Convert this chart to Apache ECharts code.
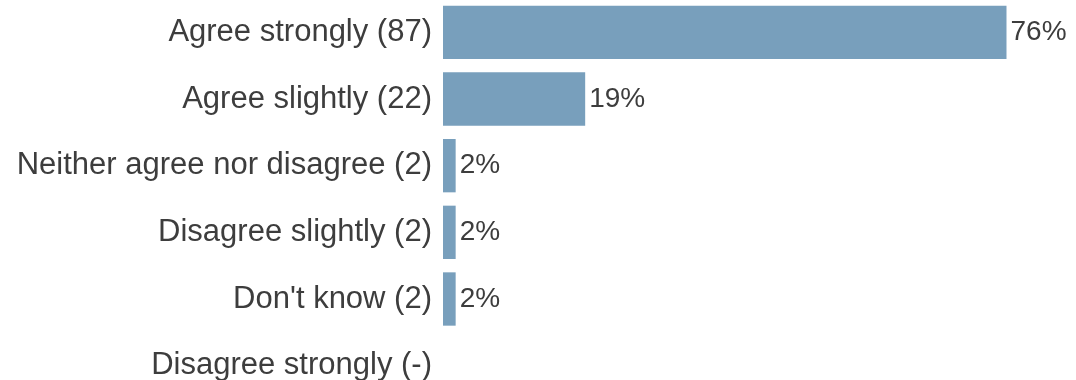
<!DOCTYPE html>
<html>
<head>
<meta charset="utf-8">
<script src="https://cdn.jsdelivr.net/npm/echarts@6/dist/echarts.min.js"></script>
<style>
html,body{margin:0;padding:0;background:#fff;overflow:hidden;width:1076px;height:380px;}
#chart{position:absolute;left:0;top:-1px;width:1076px;height:400px;}
</style>
</head>
<body>
<div id="chart"></div>
<script>
const categories = [
  "Agree strongly (87)",
  "Agree slightly (22)",
  "Neither agree nor disagree (2)",
  "Disagree slightly (2)",
  "Don't know (2)",
  "Disagree strongly (-)"
];
const percentValues = [75.7, 19.1, 1.7, 1.7, 1.7, 0];
const percentLabels = ["76%", "19%", "2%", "2%", "2%", ""];

const chart = echarts.init(document.getElementById('chart'), null, {renderer: 'canvas'});
chart.setOption({
  animation: false,
  backgroundColor: '#ffffff',
  grid: {left: 443, top: 0, right: 4, bottom: 0, containLabel: false},
  xAxis: {
    type: 'value', min: 0, max: 84.5, show: false
  },
  yAxis: {
    type: 'category', data: categories, inverse: true,
    axisLine: {show: false}, axisTick: {show: false}, splitLine: {show: false},
    axisLabel: {
      margin: 11, color: '#3d3d3d', fontSize: 31,
      fontFamily: 'Liberation Sans, Arial, sans-serif'
    }
  },
  series: [{
    type: 'bar',
    data: percentValues,
    barCategoryGap: '20%',
    itemStyle: {color: '#789fbc'},
    label: {
      show: true, position: 'right', distance: 4,
      color: '#3d3d3d', fontSize: 28,
      fontFamily: 'Liberation Sans, Arial, sans-serif',
      formatter: p => percentLabels[p.dataIndex]
    }
  }]
});
</script>
</body>
</html>
